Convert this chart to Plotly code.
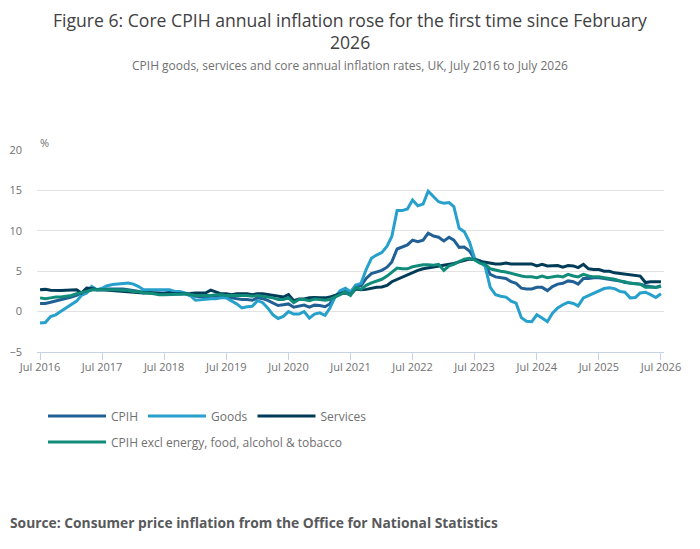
import pandas as pd
import plotly.graph_objects as go

months = pd.date_range("2016-07-01", "2026-07-01", freq="MS")

cpih = [1.0, 1.0, 1.15, 1.3, 1.4, 1.6, 1.8, 2.0, 2.3, 2.45, 2.7, 2.7, 2.7, 2.8, 2.8, 2.8, 2.8, 2.7, 2.6, 2.5,
        2.4, 2.3, 2.3, 2.3, 2.3, 2.4, 2.3, 2.2, 2.2, 2.0, 1.9, 1.8, 1.8, 1.9, 1.9, 1.8, 1.9, 1.7, 1.6, 1.5,
        1.5, 1.4, 1.7, 1.6, 1.4, 1.1, 0.75, 0.85, 0.95, 0.55, 0.65, 0.8, 0.55, 0.8, 0.75, 0.6, 0.95, 1.9, 2.3, 2.5,
        2.2, 3.2, 3.2, 4.1, 4.7, 4.85, 5.1, 5.5, 6.15, 7.75, 7.95, 8.25, 8.85, 8.65, 8.85, 9.7, 9.35, 9.2, 8.75, 9.2,
        8.85, 7.95, 8.0, 7.5, 6.5, 6.3, 5.8, 4.6, 4.3, 4.2, 4.1, 3.7, 3.5, 2.9, 2.8, 2.8, 3.0, 3.0, 2.6, 3.1,
        3.4, 3.5, 3.8, 3.7, 3.4, 4.1, 4.1, 4.2, 4.2, 4.1, 4.0, 3.9, 3.8, 3.6, 3.5, 3.4, 3.4, 3.2, 3.1, 3.0,
        3.2]

goods = [-1.4, -1.35, -0.6, -0.4, 0.05, 0.45, 0.8, 1.3, 2.0, 2.3, 3.1, 2.7, 2.9, 3.2, 3.35, 3.4, 3.45, 3.55, 3.4, 3.1,
         2.7, 2.7, 2.65, 2.65, 2.65, 2.7, 2.5, 2.5, 2.3, 2.0, 1.4, 1.5, 1.55, 1.6, 1.6, 1.7, 1.7, 1.3, 0.95, 0.45,
         0.6, 0.65, 1.35, 1.1, 0.45, -0.4, -0.85, -0.6, 0.0, -0.3, -0.3, 0.0, -0.8, -0.3, -0.15, -0.45, 0.4, 1.8, 2.6, 2.9,
         2.45, 3.3, 3.5, 5.2, 6.6, 7.0, 7.3, 8.1, 9.3, 12.5, 12.5, 12.7, 13.8, 13.1, 13.3, 14.9, 14.25, 13.6, 13.4, 13.5,
         13.0, 10.3, 9.9, 8.6, 6.6, 6.1, 5.6, 3.0, 2.1, 1.9, 1.8, 1.3, 1.05, -0.75, -1.2, -1.25, -0.4, -0.8, -1.25, -0.2,
         0.45, 0.85, 1.15, 1.0, 0.7, 1.7, 2.0, 2.3, 2.6, 2.85, 2.95, 2.85, 2.5, 2.4, 1.7, 1.75, 2.3, 2.4, 2.1, 1.75,
         2.2]

services = [2.7, 2.75, 2.65, 2.6, 2.6, 2.65, 2.65, 2.7, 2.3, 2.9, 2.85, 2.7, 2.7, 2.65, 2.6, 2.6, 2.5, 2.5, 2.45, 2.4,
            2.3, 2.35, 2.3, 2.2, 2.2, 2.3, 2.2, 2.2, 2.2, 2.25, 2.3, 2.3, 2.3, 2.65, 2.4, 2.2, 2.2, 2.1, 2.2, 2.2,
            2.2, 2.1, 2.2, 2.2, 2.1, 2.0, 1.9, 1.8, 2.1, 1.35, 1.55, 1.55, 1.7, 1.75, 1.7, 1.7, 1.8, 2.0, 2.2, 2.3,
            2.1, 2.8, 2.7, 2.75, 2.9, 3.0, 3.05, 3.25, 3.7, 4.0, 4.3, 4.6, 4.85, 5.1, 5.3, 5.4, 5.55, 5.65, 5.75, 5.85,
            5.95, 6.15, 6.35, 6.5, 6.45, 6.2, 6.1, 6.0, 5.9, 5.9, 6.0, 5.9, 5.9, 5.9, 5.85, 5.9, 5.65, 5.85, 5.65, 5.65,
            5.7, 5.5, 5.7, 5.65, 5.45, 5.85, 5.3, 5.2, 5.2, 5.0, 5.0, 4.8, 4.7, 4.6, 4.5, 4.4, 4.4, 3.6, 3.7, 3.7,
            3.7]

core = [1.7, 1.6, 1.7, 1.8, 1.8, 1.9, 2.0, 2.2, 2.3, 2.5, 2.7, 2.7, 2.7, 2.75, 2.7, 2.7, 2.65, 2.65, 2.5, 2.45,
        2.3, 2.3, 2.2, 2.1, 2.1, 2.1, 2.15, 2.15, 2.2, 2.1, 2.0, 2.0, 2.0, 2.0, 2.1, 2.1, 2.0, 2.0, 2.0, 2.0,
        2.0, 1.9, 2.0, 1.9, 1.8, 1.7, 1.5, 1.5, 1.7, 1.1, 1.5, 1.5, 1.35, 1.55, 1.5, 1.4, 1.5, 1.8, 2.1, 2.4,
        2.0, 3.0, 2.75, 3.25, 3.55, 3.75, 4.0, 4.4, 4.9, 5.4, 5.3, 5.3, 5.55, 5.65, 5.8, 5.8, 5.75, 5.85, 5.1, 5.65,
        5.85, 6.2, 6.5, 6.6, 6.4, 6.0, 5.85, 5.3, 5.1, 5.0, 4.9, 4.7, 4.6, 4.4, 4.3, 4.3, 4.2, 4.4, 4.2, 4.3,
        4.4, 4.3, 4.6, 4.4, 4.3, 4.6, 4.4, 4.3, 4.3, 4.2, 4.1, 4.0, 3.8, 3.7, 3.5, 3.4, 3.4, 3.0, 3.0, 3.0,
        3.1]

series_names = ["CPIH", "Goods", "Services", "CPIH excl energy, food, alcohol & tobacco"]
series_values = [cpih, goods, services, core]
series_colors = ["#206095", "#27a0cc", "#003c57", "#118c7b"]
series_legend = ["legend", "legend", "legend", "legend2"]

tick_dates = pd.date_range("2016-07-01", "2026-07-01", freq="12MS")
tick_labels = [d.strftime("Jul %Y") for d in tick_dates]

title_lines = ["Figure 6: Core CPIH annual inflation rose for the first time since February", "2026"]
subtitle = "CPIH goods, services and core annual inflation rates, UK, July 2016 to July 2026"
source = "Source: Consumer price inflation from the Office for National Statistics"

fig = go.Figure()
for name, vals, col, lg in zip(series_names, series_values, series_colors, series_legend):
    fig.add_trace(go.Scatter(x=months, y=vals, name=name, mode="lines",
                             line=dict(color=col, width=3), legend=lg))

grey = "#707071"
W, H = 692, 541
L, R, T, B = 29, 36, 142, 197
PW = W - L - R

annotations = []
for txt, ypx in zip(title_lines, [12, 34]):
    annotations.append(dict(text=txt, xref="paper", yref="paper", x=(342 - L) / PW, y=1.0,
                            yshift=T - ypx, xanchor="center", yanchor="middle", showarrow=False,
                            borderpad=0,
                            font=dict(family="Open Sans", size=17.6, color="#414042")))
annotations += [
    dict(text=subtitle, xref="paper", yref="paper", x=(342 - L) / PW, y=1.0, yshift=T - 57,
         xanchor="center", yanchor="middle", showarrow=False, font=dict(size=12, color=grey)),
    dict(text="%", xref="paper", yref="paper", x=0.0, xshift=1, y=1.0, yshift=8,
         xanchor="left", yanchor="middle", showarrow=False, font=dict(size=11, color=grey)),
    dict(text="<b>" + source + "</b>", xref="paper", yref="paper", x=0.0, xshift=-29, y=0.0,
         yshift=-170, xanchor="left", yanchor="middle", showarrow=False,
         font=dict(size=13.8, color="#58595b")),
]

fig.update_layout(
    width=W, height=H,
    margin=dict(l=L, r=R, t=T, b=B),
    paper_bgcolor="white", plot_bgcolor="white",
    font=dict(family="Open Sans", color=grey, size=11),
    showlegend=True,
    legend=dict(orientation="h", x=6 / PW, xanchor="left", y=-0.3168, yanchor="middle",
                itemwidth=58, font=dict(size=12, color=grey), bgcolor="rgba(0,0,0,0)"),
    legend2=dict(orientation="h", x=6 / PW, xanchor="left", y=-0.4455, yanchor="middle",
                 itemwidth=58, font=dict(size=12, color=grey), bgcolor="rgba(0,0,0,0)"),
    annotations=annotations,
)

fig.update_xaxes(
    type="date",
    range=["2016-06-13", "2026-07-19"],
    tickvals=tick_dates, ticktext=tick_labels,
    showgrid=False, showline=True, linecolor="#c4d2e4", linewidth=1,
    ticks="outside", ticklen=7, tickcolor="#c4d2e4",
    ticklabelstandoff=-2, automargin=False,
    tickfont=dict(size=11, color=grey),
    zeroline=False,
)
fig.update_yaxes(
    range=[-5, 20], tickvals=[-5, 0, 5, 10, 15, 20],
    showgrid=True, gridcolor="#e2e2e3", gridwidth=1,
    zeroline=False, showline=False, ticks="",
    ticklabelstandoff=14, automargin=False,
    tickfont=dict(size=11, color=grey),
)

fig.write_html("out.html")
